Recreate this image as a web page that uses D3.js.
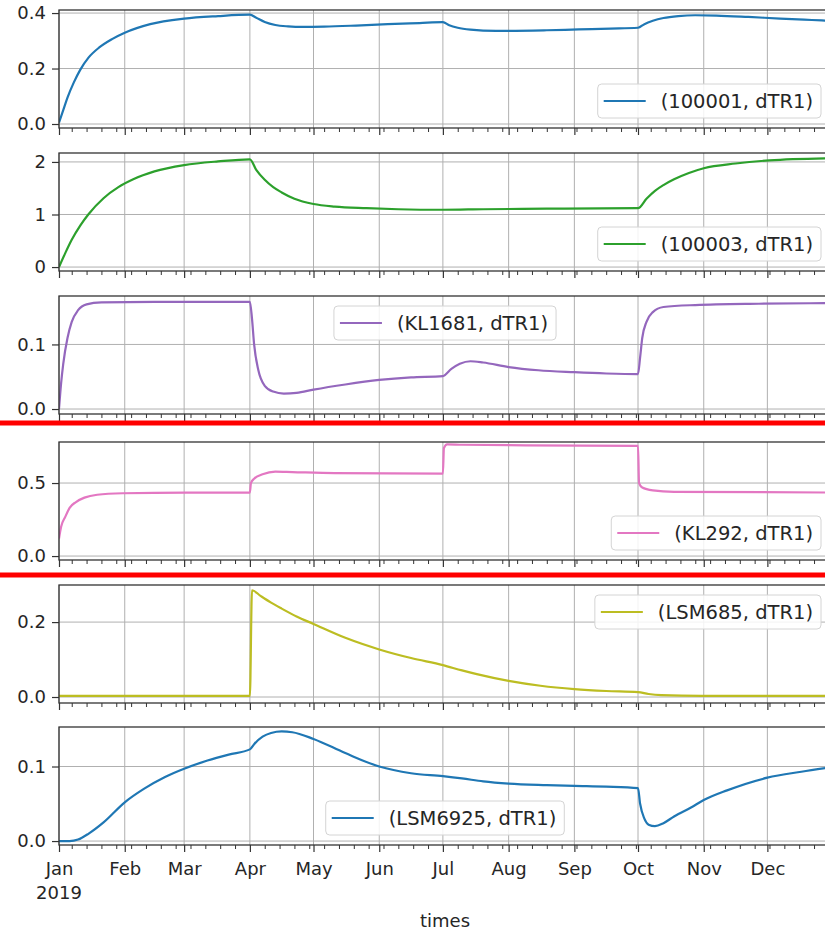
<!DOCTYPE html>
<html>
<head>
<meta charset="utf-8">
<script src="https://cdn.jsdelivr.net/npm/d3@7"></script>
<style>
  html, body { margin: 0; padding: 0; background: #fff; }
  svg { display: block; font-family: "DejaVu Sans", sans-serif; }
</style>
</head>
<body>
<svg id="chart" width="825" height="931"></svg>
<script>
// Series: [day of year (0 = 1 Jan 2019), value]
const seriesNames = ["(100001, dTR1)", "(100003, dTR1)", "(KL1681, dTR1)", "(KL292, dTR1)", "(LSM685, dTR1)", "(LSM6925, dTR1)"];

const s100001 = [
  [0, 0.005], [2, 0.05], [4, 0.095], [7, 0.15], [10, 0.195], [14, 0.24], [19, 0.276], [25, 0.306], [31, 0.329],
  [43, 0.36], [59, 0.38], [75, 0.389], [90, 0.394],
  [93, 0.383], [97, 0.368], [102, 0.357], [108, 0.352], [115, 0.35], [125, 0.351], [140, 0.355], [155, 0.36], [170, 0.364], [181, 0.367],
  [184, 0.356], [188, 0.347], [194, 0.34], [200, 0.337], [212, 0.336], [230, 0.338], [245, 0.341], [260, 0.344], [273, 0.347],
  [276, 0.36], [280, 0.372], [285, 0.382], [292, 0.389], [300, 0.392], [310, 0.391], [325, 0.386], [340, 0.38], [355, 0.375], [364, 0.372]
];

const s100003 = [
  [0, 0], [3, 0.27], [6, 0.52], [10, 0.79], [14, 1.01], [21, 1.31], [28, 1.52], [35, 1.67], [45, 1.82], [59, 1.94], [75, 2.01], [90, 2.05],
  [93, 1.85], [97, 1.66], [101, 1.52], [105, 1.42], [111, 1.3], [120, 1.2], [130, 1.15], [145, 1.12], [160, 1.1], [181, 1.09],
  [200, 1.1], [230, 1.11], [273, 1.12],
  [277, 1.3], [281, 1.45], [285, 1.56], [290, 1.67], [297, 1.79], [304, 1.88], [319, 1.97], [335, 2.03], [364, 2.07]
];

const sKL1681 = [
  [0, 0], [1, 0.04], [2, 0.07], [4, 0.11], [6, 0.135], [9, 0.153], [13, 0.162], [20, 0.165], [45, 0.166], [90, 0.166],
  [91, 0.14], [92, 0.1], [94, 0.06], [97, 0.036], [101, 0.027], [106, 0.024], [112, 0.025], [120, 0.03], [135, 0.038], [151, 0.045], [166, 0.049], [181, 0.051],
  [185, 0.062], [189, 0.07], [194, 0.074], [200, 0.072], [212, 0.065], [226, 0.06], [243, 0.057], [258, 0.055], [273, 0.054],
  [274, 0.08], [275, 0.11], [277, 0.135], [280, 0.15], [285, 0.158], [300, 0.161], [330, 0.163], [364, 0.164]
];

const sKL292 = [
  [0, 0.12], [1, 0.2], [3, 0.27], [5, 0.33], [8, 0.37], [12, 0.4], [18, 0.42], [30, 0.43], [60, 0.435], [90, 0.435],
  [90.5, 0.5], [92, 0.53], [96, 0.56], [102, 0.578], [110, 0.575], [130, 0.568], [181, 0.565],
  [181.5, 0.74], [183, 0.765], [190, 0.762], [220, 0.758], [273, 0.755],
  [273.5, 0.5], [275, 0.47], [280, 0.45], [290, 0.44], [364, 0.435]
];

const sLSM685 = [
  [0, 0.003], [45, 0.003], [90, 0.003],
  [91, 0.285], [95, 0.27], [100, 0.252], [105, 0.236], [112, 0.215], [120, 0.195], [135, 0.158], [151, 0.127], [166, 0.104], [181, 0.085],
  [190, 0.071], [197, 0.061], [212, 0.043], [227, 0.03], [243, 0.021], [258, 0.016], [273, 0.013],
  [278, 0.008], [284, 0.005], [303, 0.003], [364, 0.003]
];

const sLSM6925 = [
  [0, 0.0], [5, 0.0], [9, 0.002], [14, 0.01], [21, 0.025], [31, 0.052], [40, 0.07], [50, 0.086], [59, 0.097], [70, 0.108], [80, 0.116], [90, 0.123],
  [92, 0.13], [96, 0.14], [100, 0.145], [105, 0.147], [110, 0.146], [120, 0.137], [135, 0.118], [151, 0.1], [166, 0.091], [181, 0.087],
  [190, 0.084], [200, 0.08], [212, 0.077], [230, 0.075], [243, 0.074], [258, 0.073], [273, 0.071],
  [274, 0.05], [276, 0.03], [278, 0.022], [281, 0.02], [285, 0.024], [290, 0.033], [298, 0.045], [304, 0.055], [315, 0.068], [334, 0.085], [350, 0.093], [364, 0.099]
];

const seriesValues = [s100001, s100003, sKL1681, sKL292, sLSM685, sLSM6925];

// Y tick values and their labels, one list per panel
const yTickValues = [[0, 0.2, 0.4], [0, 1, 2], [0, 0.1], [0, 0.5], [0, 0.2], [0, 0.1]];
const yTickLabels = [["0.0", "0.2", "0.4"], ["0", "1", "2"], ["0.0", "0.1"], ["0.0", "0.5"], ["0.0", "0.2"], ["0.0", "0.1"]];
const yearLabel = "2019";
const xAxisTitle = "times";

// ---- layout / style ----
const colors = ["#1f77b4", "#2ca02c", "#9467bd", "#e377c2", "#bcbd22", "#1f77b4"];
const panelTops = [10, 153, 296, 442, 585, 727];
const panelHeight = 118;
const yDomains = [[-0.0144, 0.411], [-0.075, 2.17], [-0.0077, 0.175], [-0.027, 0.781], [-0.016, 0.299], [-0.0053, 0.153]];
const legendPos = ["lower right", "lower right", "upper center", "lower right", "upper right", "lower center"];
const left = 59, right = 831;
const tickFont = 18, legendFont = 19.5;

const svg = d3.select("#chart");
const start = new Date(2019, 0, 1);
const dayToDate = d => new Date(start.getTime() + d * 86400000);

const x = d3.scaleTime()
  .domain([start, new Date(2019, 11, 31)])
  .range([left, right]);

const monthTicks = d3.timeMonth.range(start, new Date(2020, 0, 1));
const weekTicks = d3.timeMonday.range(start, new Date(2020, 0, 1))
  .filter(d => d.getDate() !== 1);

const defs = svg.append("defs");

seriesValues.forEach((data, i) => {
  const top = panelTops[i], bottom = top + panelHeight;
  const y = d3.scaleLinear().domain(yDomains[i]).range([bottom, top]);
  const g = svg.append("g");

  defs.append("clipPath").attr("id", "clip" + i)
    .append("rect").attr("x", left).attr("y", top).attr("width", right - left).attr("height", panelHeight);

  // grid
  g.append("g").selectAll("line").data(monthTicks).join("line")
    .attr("x1", d => x(d)).attr("x2", d => x(d)).attr("y1", top).attr("y2", bottom)
    .attr("stroke", "#b0b0b0").attr("stroke-width", 1);
  g.append("g").selectAll("line").data(yTickValues[i]).join("line")
    .attr("x1", left).attr("x2", right).attr("y1", d => y(d)).attr("y2", d => y(d))
    .attr("stroke", "#b0b0b0").attr("stroke-width", 1);

  // series line
  const line = d3.line()
    .x(d => x(dayToDate(d[0])))
    .y(d => y(d[1]))
    .curve(d3.curveMonotoneX);
  g.append("path").datum(data)
    .attr("clip-path", `url(#clip${i})`)
    .attr("d", line)
    .attr("fill", "none")
    .attr("stroke", colors[i])
    .attr("stroke-width", 2.2)
    .attr("stroke-linejoin", "round");

  // frame
  g.append("rect")
    .attr("x", left).attr("y", top).attr("width", right - left).attr("height", panelHeight)
    .attr("fill", "none").attr("stroke", "#333").attr("stroke-width", 1.3);

  // y axis
  const yAxis = d3.axisLeft(y).tickValues(yTickValues[i])
    .tickFormat((d, k) => yTickLabels[i][k]).tickSize(7).tickPadding(6);
  const ya = g.append("g").attr("transform", `translate(${left},0)`).call(yAxis);
  ya.select(".domain").remove();
  ya.selectAll("line").attr("stroke", "#333").attr("stroke-width", 1.2);
  ya.selectAll("text").attr("font-size", tickFont).attr("font-family", "DejaVu Sans").attr("fill", "#262626");

  // x axis: minor weekly ticks, major monthly ticks
  const xMinor = d3.axisBottom(x).tickValues(weekTicks).tickSize(4).tickFormat("");
  const xm = g.append("g").attr("transform", `translate(0,${bottom})`).call(xMinor);
  xm.select(".domain").remove();
  xm.selectAll("line").attr("stroke", "#333").attr("stroke-width", 1);

  const isLast = i === seriesValues.length - 1;
  const xMajor = d3.axisBottom(x).tickValues(monthTicks).tickSize(7).tickPadding(10)
    .tickFormat(isLast ? d3.timeFormat("%b") : "");
  const xa = g.append("g").attr("transform", `translate(0,${bottom})`).call(xMajor);
  xa.select(".domain").remove();
  xa.selectAll("line").attr("stroke", "#333").attr("stroke-width", 1.2);
  xa.selectAll("text").attr("font-size", tickFont).attr("font-family", "DejaVu Sans").attr("fill", "#262626");

  if (isLast) {
    g.append("text").attr("x", x(start)).attr("y", bottom + 54)
      .attr("text-anchor", "middle").attr("font-size", tickFont).attr("fill", "#262626").text(yearLabel);
    g.append("text").attr("x", (left + right) / 2).attr("y", bottom + 82)
      .attr("text-anchor", "middle").attr("font-size", tickFont).attr("fill", "#262626").text(xAxisTitle);
  }

  // legend
  const lg = g.append("g");
  const box = lg.append("rect").attr("rx", 4)
    .attr("fill", "white").attr("fill-opacity", 0.85)
    .attr("stroke", "#d4d4d4").attr("stroke-width", 1);
  const sample = lg.append("line").attr("stroke", colors[i]).attr("stroke-width", 2.2);
  const label = lg.append("text").attr("font-size", legendFont).attr("fill", "#262626")
    .attr("dy", "0.35em").text(seriesNames[i]);
  const tw = label.node().getComputedTextLength();
  const bw = 6 + 42 + 15 + tw + 8, bh = 34, pad = 10;
  const pos = legendPos[i];
  let bx, by;
  if (pos.includes("right")) bx = right - pad - bw;
  else bx = (left + right) / 2 - bw / 2;
  if (pos.startsWith("lower")) by = bottom - pad - bh;
  else by = top + pad;
  box.attr("x", bx).attr("y", by).attr("width", bw).attr("height", bh);
  sample.attr("x1", bx + 6).attr("x2", bx + 48).attr("y1", by + bh / 2).attr("y2", by + bh / 2);
  label.attr("x", bx + 63).attr("y", by + bh / 2);
});

// red separator bars between panel groups
[423, 575].forEach(yy => {
  svg.append("line").attr("x1", 0).attr("x2", 825).attr("y1", yy).attr("y2", yy)
    .attr("stroke", "#ff0000").attr("stroke-width", 5);
});
</script>
</body>
</html>
